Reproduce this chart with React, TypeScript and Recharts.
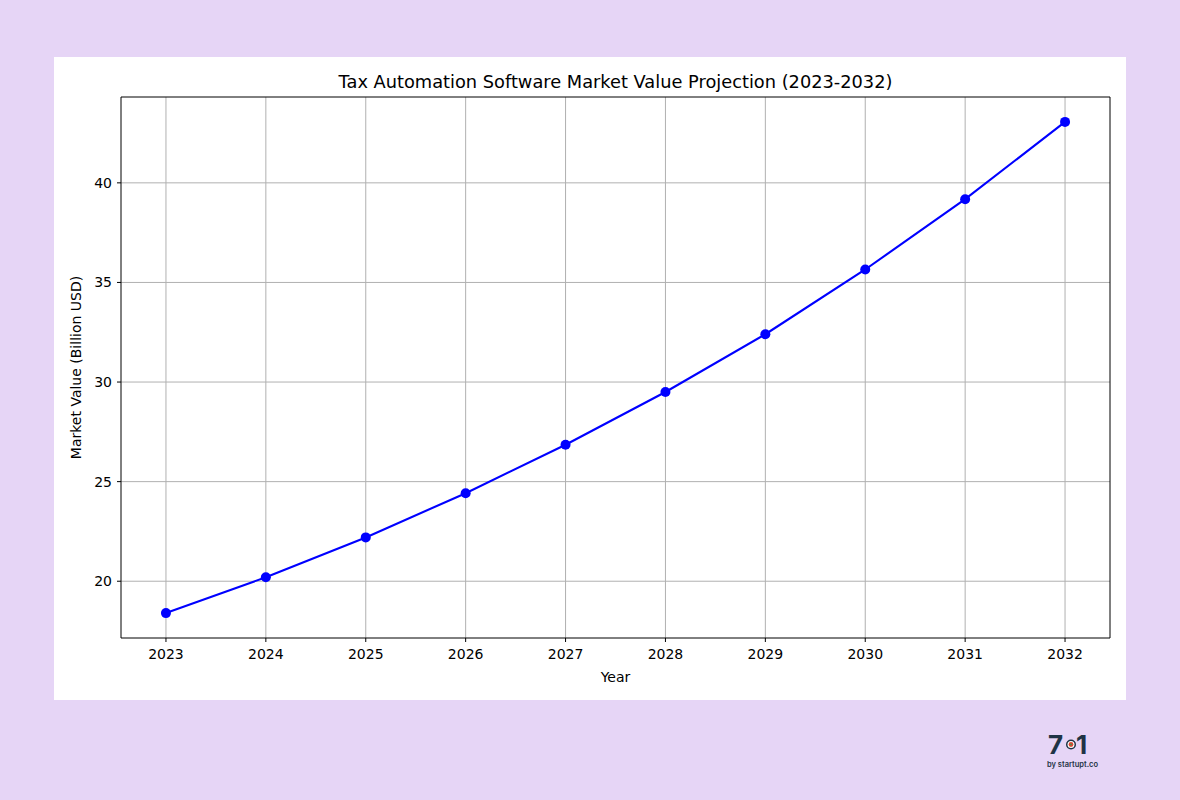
import { LineChart, Line, XAxis, YAxis, CartesianGrid, ReferenceArea } from 'recharts';

// Tax automation market projection
const years = [2023, 2024, 2025, 2026, 2027, 2028, 2029, 2030, 2031, 2032];
const marketValue = [18.4, 20.2, 22.2, 24.42, 26.85, 29.5, 32.4, 35.65, 39.18, 43.06];
const yTicks = [20, 25, 30, 35, 40];

const xDomain: [number, number] = [2022.55, 2032.45];
const yDomain: [number, number] = [17.15, 44.31];

const FONT = '"DejaVu Sans", sans-serif';

export default function App() {
  const data = years.map((year, i) => ({ year, value: marketValue[i] }));

  return (
    <div
      style={{
        position: 'absolute',
        left: 0,
        top: 0,
        width: 1180,
        height: 800,
        background: '#e6d5f6',
        fontFamily: FONT,
      }}
    >
      <div
        style={{
          position: 'absolute',
          left: 54,
          top: 57,
          width: 1072,
          height: 643,
          background: '#ffffff',
        }}
      >
        <div
          style={{
            position: 'absolute',
            left: 67,
            width: 989,
            top: 14,
            textAlign: 'center',
            fontSize: 17.8,
            color: '#000',
          }}
        >
          Tax Automation Software Market Value Projection (2023-2032)
        </div>
        <LineChart
          width={1072}
          height={643}
          data={data}
          margin={{ top: 40, right: 16, bottom: 0, left: 0 }}
        >
          <CartesianGrid
            stroke="#b0b0b0"
            strokeWidth={1}
            verticalValues={years}
            horizontalValues={yTicks}
          />
          <XAxis
            dataKey="year"
            type="number"
            domain={xDomain}
            ticks={years}
            allowDataOverflow
            height={62}
            axisLine={false}
            tickSize={4}
            tickLine={{ stroke: '#000' }}
            tick={{ fill: '#000', fontSize: 14, fontFamily: FONT, dy: 5 }}
            label={{ value: 'Year', position: 'insideBottom', offset: 18, fill: '#000', fontSize: 14, fontFamily: FONT }}
          />
          <YAxis
            type="number"
            domain={yDomain}
            ticks={yTicks}
            allowDataOverflow
            width={67}
            axisLine={false}
            tickSize={4}
            tickLine={{ stroke: '#000' }}
            tick={{ fill: '#000', fontSize: 14, fontFamily: FONT, dx: -3 }}
            label={{
              value: 'Market Value (Billion USD)',
              angle: -90,
              position: 'insideLeft',
              offset: 22,
              style: { textAnchor: 'middle' },
              fill: '#000',
              fontSize: 14,
              fontFamily: FONT,
            }}
          />
          <ReferenceArea
            x1={xDomain[0]}
            x2={xDomain[1]}
            y1={yDomain[0]}
            y2={yDomain[1]}
            fill="none"
            stroke="#000"
            strokeWidth={1}
            ifOverflow="visible"
          />
          <Line
            type="linear"
            dataKey="value"
            stroke="#0000ff"
            strokeWidth={2.1}
            dot={{ fill: '#0000ff', stroke: '#0000ff', r: 5, strokeWidth: 0 }}
            activeDot={false}
            isAnimationActive={false}
          />
        </LineChart>
      </div>

      {/* logo */}
      <svg style={{ position: 'absolute', left: 1040, top: 728 }} width={64} height={44}>
        <text x={8} y={26} fontFamily="Inter, sans-serif" fontWeight={700} fontSize={26} fill="#1f3345">
          7
        </text>
        <circle cx={31} cy={16.5} r={5} fill="#1f3345" />
        <circle cx={31} cy={16.5} r={3.5} fill="#ffffff" />
        <circle cx={31} cy={16.5} r={2.4} fill="#e0452f" />
        <circle cx={31} cy={16.5} r={0.9} fill="#3a9a5a" />
        <text x={36} y={26} fontFamily="Inter, sans-serif" fontWeight={700} fontSize={26} fill="#1f3345">
          1
        </text>
        <text x={7} y={39} fontFamily="Inter, sans-serif" fontWeight={600} fontSize={7.5} fill="#1f3345">
          by startupt.co
        </text>
      </svg>
    </div>
  );
}
